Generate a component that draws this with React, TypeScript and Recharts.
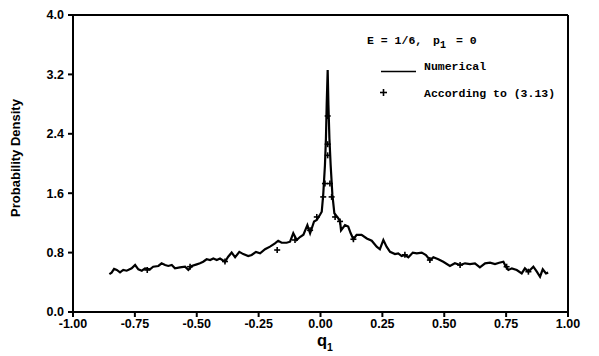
import {
  ComposedChart,
  Line,
  Scatter,
  XAxis,
  YAxis,
  ReferenceLine,
} from "recharts";

// numerical curve
const qNumerical = [
  -0.853, -0.844, -0.834, -0.823, -0.81, -0.797, -0.783, -0.763, -0.749, -0.736,
  -0.722, -0.709, -0.689, -0.676, -0.655, -0.642, -0.628, -0.615, -0.601, -0.588,
  -0.568, -0.547, -0.534, -0.52, -0.5, -0.487, -0.474, -0.46, -0.446, -0.433,
  -0.419, -0.406, -0.386, -0.373, -0.359, -0.345, -0.328, -0.312, -0.292, -0.278,
  -0.261, -0.244, -0.224, -0.204, -0.184, -0.171, -0.157, -0.137, -0.123, -0.11,
  -0.096, -0.083, -0.069, -0.053, -0.042, -0.026, -0.015, -0.002, 0.005, 0.011,
  0.018, 0.022, 0.025, 0.029, 0.032, 0.036, 0.041, 0.048, 0.056, 0.072,
  0.079, 0.083, 0.099, 0.112, 0.122, 0.133, 0.146, 0.166, 0.187, 0.207,
  0.227, 0.24, 0.254, 0.267, 0.281, 0.301, 0.314, 0.328, 0.341, 0.355,
  0.373, 0.389, 0.409, 0.426, 0.442, 0.456, 0.476, 0.496, 0.523, 0.543,
  0.564, 0.584, 0.604, 0.624, 0.644, 0.665, 0.685, 0.705, 0.722, 0.739,
  0.749, 0.759, 0.773, 0.793, 0.813, 0.826, 0.84, 0.86, 0.874, 0.887,
  0.898, 0.911, 0.92,
];
const densityNumerical = [
  0.51, 0.53, 0.58, 0.566, 0.535, 0.566, 0.556, 0.588, 0.633, 0.575,
  0.556, 0.588, 0.575, 0.61, 0.62, 0.656, 0.633, 0.62, 0.633, 0.588,
  0.6, 0.61, 0.566, 0.62, 0.642, 0.656, 0.677, 0.71, 0.7, 0.72,
  0.7, 0.72, 0.677, 0.745, 0.8, 0.737, 0.81, 0.78, 0.754, 0.768,
  0.81, 0.79, 0.845, 0.88, 0.925, 0.96, 0.933, 0.933, 0.947, 1.06,
  0.97, 1.01, 1.04, 1.17, 1.06, 1.22, 1.24, 1.31, 1.35, 1.58,
  1.98, 2.34, 2.79, 3.26, 2.79, 2.34, 1.98, 1.58, 1.33, 1.26,
  1.22, 1.1, 1.17, 1.15, 1.06, 0.98, 1.04, 1.04, 0.99, 0.96,
  0.88, 0.845, 0.97, 0.88, 0.81, 0.78, 0.79, 0.754, 0.768, 0.737,
  0.8, 0.79, 0.8, 0.768, 0.7, 0.737, 0.71, 0.677, 0.62, 0.656,
  0.633, 0.656, 0.646, 0.656, 0.6, 0.656, 0.664, 0.646, 0.664, 0.677,
  0.61, 0.566, 0.588, 0.566, 0.52, 0.588, 0.543, 0.61, 0.543, 0.475,
  0.575, 0.52, 0.53,
];

// "+" points, according to (3.13)
const qFormula = [
  -0.7, -0.527, -0.386, -0.175, -0.103, -0.042, -0.015, 0.011, 0.018, 0.029,
  0.029, 0.029, 0.038, 0.045, 0.059, 0.079, 0.133, 0.341, 0.442, 0.564,
  0.752, 0.84,
];
const densityFormula = [
  0.566, 0.61, 0.68, 0.835, 0.97, 1.1, 1.28, 1.55, 1.73, 2.11,
  2.26, 2.64, 1.73, 1.55, 1.28, 1.22, 0.98, 0.77, 0.7, 0.633,
  0.61, 0.543,
];

const xTicks = [-1, -0.75, -0.5, -0.25, 0, 0.25, 0.5, 0.75, 1];
const yTicks = [0, 0.8, 1.6, 2.4, 3.2, 4.0];

const numericalRows = qNumerical.map((q, i) => ({ q, p: densityNumerical[i] }));
const formulaRows = qFormula.map((q, i) => ({ q, p: densityFormula[i] }));

const SANS = "'Liberation Sans', Arial, sans-serif";
const MONO = "'Liberation Mono', 'DejaVu Sans Mono', monospace";

function PlusMark(props: any) {
  const { cx, cy } = props;
  if (cx == null || cy == null) return null;
  return (
    <g stroke="#000" strokeWidth={1.6}>
      <line x1={cx - 3} y1={cy} x2={cx + 3} y2={cy} />
      <line x1={cx} y1={cy - 3} x2={cx} y2={cy + 3} />
    </g>
  );
}

const tickStyle = { fill: "#000", fontSize: 12.5, fontWeight: 700, fontFamily: SANS };

export default function App() {
  return (
    <div style={{ position: "absolute", left: 0, top: 0, width: 599, height: 356, background: "#fff" }}>
      <ComposedChart
        width={599}
        height={356}
        margin={{ top: 15, right: 31, left: 0, bottom: 0 }}
      >
        <XAxis
          type="number"
          dataKey="q"
          domain={[-1, 1]}
          ticks={xTicks}
          tickFormatter={(v: number) => v.toFixed(2)}
          height={44}
          stroke="#000"
          strokeWidth={2}
          tickSize={5}
          tickMargin={2}
          tick={tickStyle}
          allowDataOverflow
        />
        <YAxis
          type="number"
          dataKey="p"
          domain={[0, 4]}
          ticks={yTicks}
          tickFormatter={(v: number) => v.toFixed(1)}
          width={73}
          stroke="#000"
          strokeWidth={2}
          tickSize={5}
          tickMargin={4}
          tick={tickStyle}
          allowDataOverflow
        />
        <ReferenceLine y={4} stroke="#000" strokeWidth={2} />
        <ReferenceLine x={1} stroke="#000" strokeWidth={2} />
        <Line
          data={numericalRows}
          dataKey="p"
          type="linear"
          stroke="#000"
          strokeWidth={2.2}
          dot={false}
          isAnimationActive={false}
        />
        <Scatter
          data={formulaRows}
          dataKey="p"
          shape={<PlusMark />}
          isAnimationActive={false}
        />
      </ComposedChart>
      <svg
        width={599}
        height={356}
        style={{ position: "absolute", left: 0, top: 0, pointerEvents: "none" }}
      >
        <text
          x={17}
          y={158}
          transform="rotate(-90 17 158)"
          textAnchor="middle"
          dominantBaseline="middle"
          fontFamily={SANS}
          fontWeight={700}
          fontSize={13}
        >
          Probability Density
        </text>
        <text x={317} y={346} fontFamily={SANS} fontWeight={700} fontSize={16.5}>
          q
        </text>
        <text x={327} y={351} fontFamily={SANS} fontWeight={700} fontSize={10.5}>
          1
        </text>
        <g fontFamily={MONO} fontWeight={700} fontSize={11.5}>
          <text x={367} y={44}>E = 1/6,</text>
          <text x={433} y={44}>p</text>
          <text x={440} y={48} fontSize={10}>1</text>
          <text x={456} y={44}>= 0</text>
          <text x={424} y={70}>Numerical</text>
          <text x={424} y={97}>According to (3.13)</text>
        </g>
        <line x1={381} y1={71.5} x2={416} y2={71.5} stroke="#000" strokeWidth={1.5} />
        <g stroke="#000" strokeWidth={1.6}>
          <line x1={380} y1={92.5} x2={387} y2={92.5} />
          <line x1={383.5} y1={89} x2={383.5} y2={96} />
        </g>
      </svg>
    </div>
  );
}
